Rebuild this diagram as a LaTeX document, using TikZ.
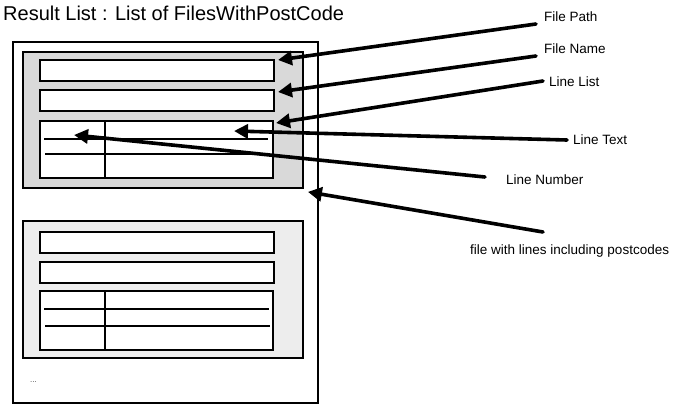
\documentclass[tikz,border=0pt]{standalone}
\usepackage{fontspec}
\setmainfont{Liberation Sans}
\usetikzlibrary{arrows.meta}

\tikzset{
  field/.style={draw,line width=2pt,fill=white,inner sep=0pt,minimum width=234pt,minimum height=21pt},
  linetable/.style={draw,line width=2pt,fill=white,inner sep=0pt,minimum width=233pt},
  group/.style={draw,line width=1.8pt,inner sep=0pt,minimum width=280pt},
  rowline/.style={line width=1.3pt},
  label/.style={anchor=base west,inner sep=0pt,font=\fontsize{13.5}{16}\selectfont},
  callout/.style={line width=3.6pt,line cap=round,-{Triangle[length=14pt,width=14pt]}}
}

\begin{document}
\begin{tikzpicture}[x=1pt,y=-1pt]
\useasboundingbox (0,0) rectangle (682,405);

% title
\node[anchor=base west,inner sep=0pt,font=\fontsize{20}{24}\selectfont] (title) at (3,20) {Result List : List of FilesWithPostCode};

% result list
\node[draw,line width=1.3pt,inner sep=0pt,minimum width=305pt,minimum height=361pt] (list) at (165.5,222.5) {};

% first file
\node[group,fill=black!15,minimum height=136pt] (grp1) at (163,120) {};
\node[field] (path1) at (157,70.5) {};
\node[field] (name1) at (157,100.5) {};
\node[linetable,minimum height=57pt] (tab1) at (156.5,149.5) {};
\draw[rowline] (105,121) -- (105,178);
\draw[rowline] (44,139) -- (268,139);
\draw[rowline] (45,154) -- (270,154);

% second file
\node[group,fill=black!7,minimum height=137pt] (grp2) at (163,289.5) {};
\node[field] (path2) at (157,242) {};
\node[field] (name2) at (157,272) {};
\node[linetable,minimum height=59pt] (tab2) at (156.5,320.5) {};
\draw[rowline] (105,291) -- (105,350);
\draw[rowline] (44,309) -- (269,309);
\draw[rowline] (45,326) -- (270,326);

\node[anchor=base west,inner sep=0pt,font=\fontsize{8}{9}\selectfont,text=black!70] (more) at (30,382) {...};

% labels
\node[label] (fpath) at (544,21) {File Path};
\node[label] (fname) at (544,53) {File Name};
\node[label] (llist) at (549,86) {Line List};
\node[label] (ltext) at (573,144) {Line Text};
\node[label] (lnum) at (506,184) {Line Number};
\node[label] (fwl) at (470,254) {file with lines including postcodes};

% arrows
\draw[callout] ([shift={(-8,3)}]fpath.base west) -- ([shift={(3,1)}]path1.north east);
\draw[callout] ([shift={(-8,3)}]fname.base west) -- ([shift={(3,3)}]name1.north east);
\draw[callout] ([shift={(-6,-5)}]llist.base west) -- ([shift={(2,3)}]tab1.north east);
\draw[callout] ([shift={(-6,-4)}]ltext.base west) -- ([shift={(-40,11)}]tab1.north east);
\draw[callout] ([shift={(-21,-7)}]lnum.base west) -- ([shift={(35,15)}]tab1.north west);
\draw[callout] ([shift={(73,-22)}]fwl.base west) -- ([shift={(4,3)}]grp1.south east);
\end{tikzpicture}
\end{document}
